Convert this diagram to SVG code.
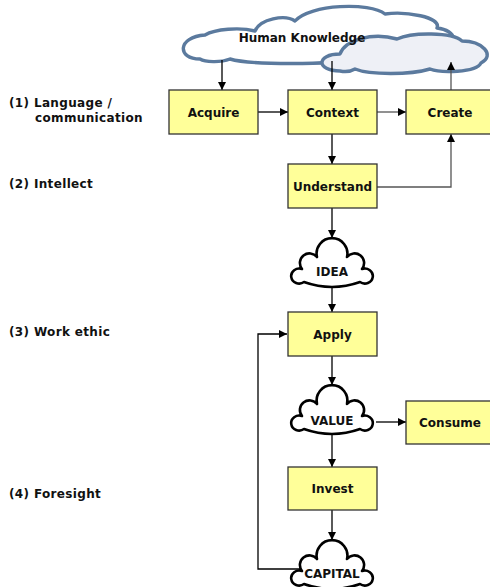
<svg xmlns="http://www.w3.org/2000/svg" width="490" height="587" viewBox="0 0 490 587">
<style>
text{font-family:"DejaVu Sans","Verdana",sans-serif;font-weight:bold;fill:#111}
.lbl{font-size:12px;letter-spacing:0.35px}
.bt{font-size:12px;text-anchor:middle}
.box{fill:#ffff99;stroke:#333;stroke-width:1.3}
.cl{fill:#fff;stroke:#000;stroke-width:2.6;stroke-linejoin:round}
.ct{font-size:12px;text-anchor:middle}
.c{fill:none;stroke:#000;stroke-width:1.3}
.g{fill:none;stroke:#555;stroke-width:1.3}
.big{stroke:#5b7a9e;stroke-width:3.4;stroke-linejoin:round}
</style>
<defs>
<marker id="ah" viewBox="0 0 10 10" refX="10" refY="5" markerWidth="8" markerHeight="8" markerUnits="userSpaceOnUse" orient="auto">
<path d="M0,0 L10,5 L0,10 Z" fill="#000"/>
</marker>
<path id="cloud" d="M-28,44 A8,7.5 0 1 1 -30,31 A9,9 0 0 1 -15,19 A15.4,15.4 0 1 1 15,19 A9,9 0 0 1 30,31 A8,7.5 0 1 1 28,44 Q0,54 -28,44 Z"/>
</defs>

<g id="labels">
<text class="lbl" x="9" y="107">(1) Language /</text>
<text class="lbl" x="35" y="122">communication</text>
<text class="lbl" x="9" y="188">(2) Intellect</text>
<text class="lbl" x="9" y="336">(3) Work ethic</text>
<text class="lbl" x="9" y="498">(4) Foresight</text>
</g>

<g id="human-knowledge">
<path class="big" fill="#fff" d="M200,59 C177,59 177,37 205,35 C215,29 240,27 255,31 C260,19 285,14 295,21 C310,4 370,2 385,14 C405,11 442,17 437,28 C457,30 460,46 440,51 C430,63 380,63 360,59 C330,65 250,65 230,59 C220,63 205,62 200,59 Z"/>
<path class="big" fill="#eef0f6" d="M340,71 C316,71 316,54 340,54 C345,40 372,32 397,39 C412,32 452,32 462,41 C482,41 496,55 481,63 C476,73 440,73 430,69 C410,75 370,75 355,69 C350,72 345,72 340,71 Z"/>
<text class="bt" x="302" y="42">Human Knowledge</text>
</g>

<g id="connectors">
<line class="c" x1="222" y1="60" x2="222" y2="90" marker-end="url(#ah)"/>
<line class="c" x1="332" y1="61" x2="332" y2="90" marker-end="url(#ah)"/>
<line class="g" x1="451" y1="90" x2="451" y2="62" marker-end="url(#ah)"/>
<line class="c" x1="258" y1="112" x2="288" y2="112" marker-end="url(#ah)"/>
<line class="g" x1="377" y1="112" x2="406" y2="112" marker-end="url(#ah)"/>
<line class="c" x1="332" y1="134" x2="332" y2="164" marker-end="url(#ah)"/>
<polyline class="g" points="377,187 451,187 451,134" marker-end="url(#ah)"/>
<line class="c" x1="332" y1="208" x2="332" y2="238" marker-end="url(#ah)"/>
<line class="c" x1="332" y1="287" x2="332" y2="312" marker-end="url(#ah)"/>
<line class="c" x1="332" y1="356" x2="332" y2="385" marker-end="url(#ah)"/>
<line class="c" x1="376" y1="422" x2="406" y2="422" marker-end="url(#ah)"/>
<line class="c" x1="332" y1="435" x2="332" y2="467" marker-end="url(#ah)"/>
<line class="c" x1="332" y1="510" x2="332" y2="540" marker-end="url(#ah)"/>
<polyline class="c" points="300,569 258,569 258,334 287,334" marker-end="url(#ah)"/>
</g>

<g id="acquire"><rect class="box" x="169" y="90" width="89" height="44"/><text class="bt" x="213.5" y="117">Acquire</text></g>
<g id="context"><rect class="box" x="288" y="90" width="89" height="44"/><text class="bt" x="332.5" y="117">Context</text></g>
<g id="create"><rect class="box" x="406" y="90" width="89" height="44"/><text class="bt" x="450" y="117">Create</text></g>
<g id="understand"><rect class="box" x="288" y="164" width="89" height="44"/><text class="bt" x="332.5" y="191">Understand</text></g>
<g id="idea"><use href="#cloud" class="cl" x="332" y="238"/><text class="ct" x="332" y="276">IDEA</text></g>
<g id="apply"><rect class="box" x="288" y="312" width="89" height="44"/><text class="bt" x="332.5" y="339">Apply</text></g>
<g id="value"><use href="#cloud" class="cl" x="332" y="385"/><text class="ct" x="332" y="425">VALUE</text></g>
<g id="consume"><rect class="box" x="406" y="401" width="89" height="43"/><text class="bt" x="450" y="427">Consume</text></g>
<g id="invest"><rect class="box" x="288" y="467" width="89" height="43"/><text class="bt" x="332.5" y="493">Invest</text></g>
<g id="capital"><use href="#cloud" class="cl" x="332" y="540"/><text class="ct" x="332" y="578">CAPITAL</text></g>
</svg>
